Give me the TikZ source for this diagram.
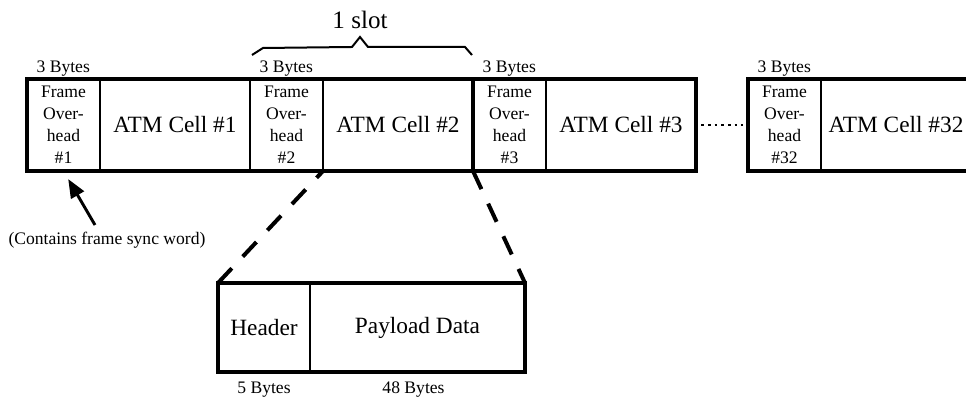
\documentclass[tikz,border=0pt]{standalone}
\usepackage{fontspec}
\setmainfont{Liberation Serif}
\usepackage{tikz}
\usetikzlibrary{arrows.meta,positioning}
\tikzset{
    fohead/.style={rectangle, draw, line width=1.2pt, outer sep=0pt, inner sep=0pt, minimum width=54.75pt, minimum height=69pt, align=center, font=\fontsize{13.2}{16.5}\selectfont},
    atmcell/.style={rectangle, draw, line width=1.2pt, outer sep=0pt, inner sep=0pt, minimum width=112.5pt, minimum height=69pt, font=\fontsize{17.5}{21}\selectfont},
    bytes/.style={inner sep=1pt, font=\fontsize{13.2}{15}\selectfont},
    thickframe/.style={line width=3pt},
    zoomline/.style={line width=3pt, dash pattern=on 15pt off 12pt},
    arrow/.style={-{Triangle[length=14pt,width=11pt]}, line width=2.2pt},
    dotline/.style={line width=1.5pt, dash pattern=on 2pt off 3pt}
}

\begin{document}
\begin{tikzpicture}[x=0.75pt, y=0.75pt, node distance=0pt]
\useasboundingbox (0,0) rectangle (966,399);
\clip (0,0) rectangle (966,399);

% Frame: overhead + ATM cells 1 to 3
\node[fohead, anchor=north west] (fo1) at (27,320) {Frame\\Over-\\head\\\#1};
\node[atmcell, right=of fo1] (cell1) {ATM Cell \#1};
\node[fohead, right=of cell1] (fo2) {Frame\\Over-\\head\\\#2};
\node[atmcell, right=of fo2] (cell2) {ATM Cell \#2};
\node[fohead, right=of cell2] (fo3) {Frame\\Over-\\head\\\#3};
\node[atmcell, right=of fo3] (cell3) {ATM Cell \#3};

% last slot
\node[fohead, anchor=north west] (fo32) at (748,320) {Frame\\Over-\\head\\\#32};
\node[atmcell, right=of fo32] (cell32) {ATM Cell \#32};

% outlines
\draw[thickframe] (fo1.north west) rectangle (cell3.south east);
\draw[thickframe] (fo32.north west) rectangle (cell32.south east);
\draw[line width=2pt] (cell1.north east) -- (cell1.south east);
\draw[thickframe] (cell2.north east) -- (cell2.south east);
\draw[dotline, shorten <=4pt, shorten >=4pt] (cell3.east) -- (fo32.west);

% byte counts
\node[bytes, above right=0.5pt and 6pt of fo1.north west] (by1) {3 Bytes};
\node[bytes, above right=0.5pt and 6pt of fo2.north west] (by2) {3 Bytes};
\node[bytes, above right=0.5pt and 6pt of fo3.north west] (by3) {3 Bytes};
\node[bytes, above right=0.5pt and 6pt of fo32.north west] (by32) {3 Bytes};

% slot brace
\node[font=\fontsize{18.8}{22}\selectfont] (slot) at (360,379) {1 slot};
\draw[line width=1.5pt] (252,344) -- (263,351) -- (352,352) -- (360,362) -- (368,352) -- (465,352) -- (472,344);

% sync word note
\node[bytes] (sync) at (107,159) {(Contains frame sync word)};
\coordinate (tail) at (95,174);
\draw[arrow, shorten >=7pt] (tail) -- (fo1.south);

% ATM cell breakdown
\node[atmcell, anchor=north west, minimum width=69pt, minimum height=66.75pt] (hdr) at (218,116) {Header};
\node[atmcell, right=of hdr, minimum width=161.25pt, minimum height=66.75pt] (payload) {Payload Data};
\draw[thickframe] (hdr.north west) rectangle (payload.south east);
\node[bytes, below=6.5pt of hdr] (hdrbytes) {5 Bytes};
\node[bytes, below=6.5pt of payload, xshift=-3pt] (paybytes) {48 Bytes};

% zoom lines
\draw[zoomline, dash phase=8pt] (cell2.south west) -- (hdr.north west);
\draw[zoomline] (cell2.south east) -- (payload.north east);

\end{tikzpicture}
\end{document}
